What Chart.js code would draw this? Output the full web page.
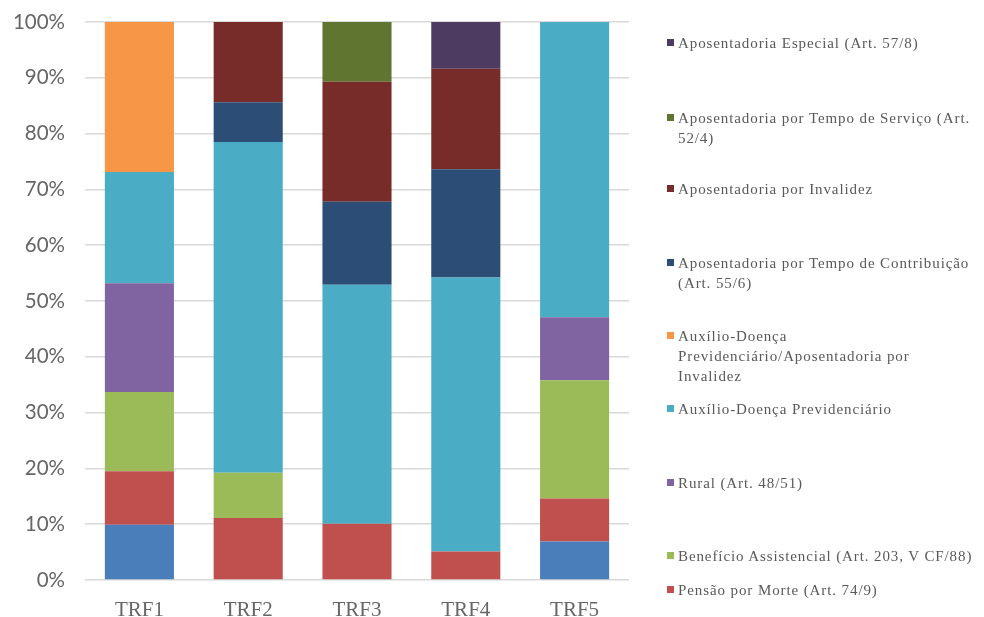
<!DOCTYPE html>
<html>
<head>
<meta charset="utf-8">
<script src="https://cdn.jsdelivr.net/npm/chart.js@4/dist/chart.umd.min.js"></script>
<style>
  html, body { margin: 0; padding: 0; background: #fff; }
  #wrap { position: relative; width: 984px; height: 617px; overflow: hidden; }
  #c { position: absolute; left: 0; top: 0; }
  #legend { position: absolute; left: 0; top: 0; width: 984px; height: 617px; pointer-events: none;
    font-family: "Liberation Serif", serif; font-size: 15px; letter-spacing: 0.9px; color: #595959; }
  .item { position: absolute; left: 678px; line-height: 20px; white-space: nowrap; }
  .mk { position: absolute; left: -11px; top: 6px; width: 7px; height: 7px; }
</style>
</head>
<body>
<div id="wrap">
  <canvas id="c" width="984" height="617"></canvas>
  <div id="legend"></div>
</div>
<script>
// ---- data ----
const categories = ["TRF1", "TRF2", "TRF3", "TRF4", "TRF5"];
const yTicks = [0, 10, 20, 30, 40, 50, 60, 70, 80, 90, 100];

// series, bottom of stack to top
const seriesNames = [
  "Outros",
  "Pensão por Morte (Art. 74/9)",
  "Benefício Assistencial (Art. 203, V CF/88)",
  "Rural (Art. 48/51)",
  "Auxílio-Doença Previdenciário",
  "Auxílio-Doença\nPrevidenciário/Aposentadoria por\nInvalidez",
  "Aposentadoria por Tempo de Contribuição\n(Art. 55/6)",
  "Aposentadoria por Invalidez",
  "Aposentadoria por Tempo de Serviço (Art.\n52/4)",
  "Aposentadoria Especial (Art. 57/8)"
];
const outros          = [9.9, 0, 0, 0, 6.9];
const pensaoMorte     = [9.6, 11.1, 10.1, 5.1, 7.7];
const beneficioAssist = [14.2, 8.1, 0, 0, 21.2];
const rural           = [19.5, 0, 0, 0, 11.3];
const auxDoencaPrev   = [19.9, 59.3, 42.8, 49.1, 52.9];
const auxDoencaApos   = [26.9, 0, 0, 0, 0];
const aposTempoContrib= [0, 7.1, 14.9, 19.4, 0];
const aposInvalidez   = [0, 14.4, 21.5, 18.0, 0];
const aposTempoServ   = [0, 0, 10.7, 0, 0];
const aposEspecial    = [0, 0, 0, 8.4, 0];
const seriesValues = [outros, pensaoMorte, beneficioAssist, rural, auxDoencaPrev,
  auxDoencaApos, aposTempoContrib, aposInvalidez, aposTempoServ, aposEspecial];
const seriesInLegend = [false, true, true, true, true, true, true, true, true, true];

// ---- styles ----
const colors = ["#4A7EBB", "#C0504D", "#9BBB59", "#8064A2", "#4BACC6",
  "#F79646", "#2C4D75", "#772C2A", "#5F7530", "#4D3B62"];
// legend first-line centre (px), top item first
const legendCenters = [43, 118, 189, 263, 336, 409, 483, 556, 590];

const datasets = seriesNames.map((n, i) => ({
  label: n.replace(/\n/g, " "),
  data: seriesValues[i],
  backgroundColor: colors[i],
  borderWidth: 0,
  barPercentage: 0.635,
  categoryPercentage: 1.0
}));

new Chart(document.getElementById("c"), {
  type: "bar",
  data: { labels: categories, datasets },
  options: {
    responsive: false,
    animation: false,
    layout: { padding: { top: 22, right: 355, left: 0, bottom: 0 } },
    plugins: { legend: { display: false }, tooltip: { enabled: true } },
    scales: {
      x: {
        stacked: true,
        grid: { display: false, drawTicks: false },
        border: { display: false },
        ticks: { color: "#666666", padding: 18, font: { family: "Liberation Serif", size: 21 } },
        afterFit: s => { s.height = 37; }
      },
      y: {
        stacked: true,
        min: 0, max: 100,
        afterBuildTicks: s => { s.ticks = yTicks.map(v => ({ value: v })); },
        grid: { color: "#D9D9D9", lineWidth: 1.5, drawTicks: true, tickLength: 20, tickColor: "rgba(0,0,0,0)" },
        border: { display: false },
        ticks: { color: "#666666", padding: 0, font: { family: "Lato", size: 20.5 },
          callback: v => v + "%" },
        afterFit: s => { s.width = 85; }
      }
    }
  }
});

// ---- legend (top item = top of stack) ----
const lg = document.getElementById("legend");
let k = 0;
for (let i = seriesNames.length - 1; i >= 0; i--) {
  if (!seriesInLegend[i]) continue;
  const div = document.createElement("div");
  div.className = "item";
  div.style.top = (legendCenters[k] - 10) + "px";
  const mk = document.createElement("span");
  mk.className = "mk";
  mk.style.background = colors[i];
  div.appendChild(mk);
  seriesNames[i].split("\n").forEach((line, j) => {
    if (j > 0) div.appendChild(document.createElement("br"));
    div.appendChild(document.createTextNode(line));
  });
  lg.appendChild(div);
  k++;
}
</script>
</body>
</html>
